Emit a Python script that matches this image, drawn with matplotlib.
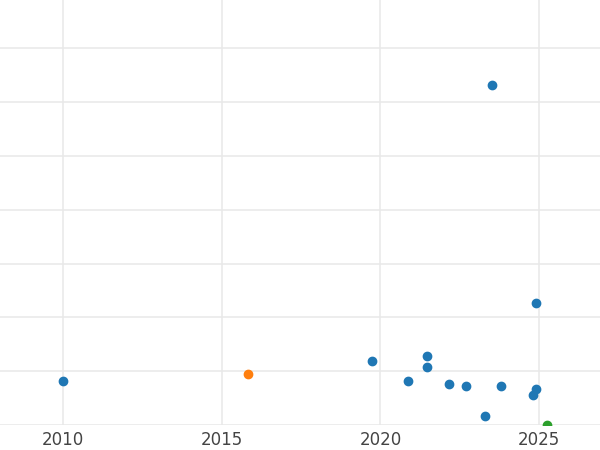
import matplotlib
matplotlib.use("Agg")
import matplotlib.pyplot as plt
from matplotlib.ticker import MultipleLocator

# points
years = [2010.0, 2019.73, 2020.87, 2021.47, 2021.47, 2022.16, 2022.70, 2023.30,
         2023.52, 2023.80, 2024.81, 2024.90, 2024.90]
values = [0.83, 1.19, 0.83, 1.28, 1.09, 0.76, 0.72, 0.17, 6.31, 0.72, 0.57, 0.67, 2.26]
orange_years = [2015.83]; orange_values = [0.96]
green_years = [2025.25]; green_values = [0.0]

fig = plt.figure(figsize=(6, 4.5), dpi=100)
ax = fig.add_axes([0, 0.055, 1, 0.945])
ax.scatter(years, values, s=36, color="#1f77b4", zorder=3)
ax.scatter(orange_years, orange_values, s=36, color="#ff7f0e", zorder=3)
ax.scatter(green_years, green_values, s=36, color="#2ca02c", zorder=3)

ax.set_xlim(2008.01, 2026.92)
ax.set_ylim(0, 7.89)
ax.xaxis.set_major_locator(MultipleLocator(5))
ax.yaxis.set_major_locator(MultipleLocator(1))
ax.grid(which="major", color="#e8e8e8", linewidth=1.1)
ax.set_axisbelow(True)
for s in ax.spines.values():
    s.set_visible(False)
ax.tick_params(axis="y", left=False, labelleft=False)
ax.tick_params(axis="x", length=0, labelsize=12, labelcolor="#444444", pad=4)

fig.savefig("out.png", dpi=100)
